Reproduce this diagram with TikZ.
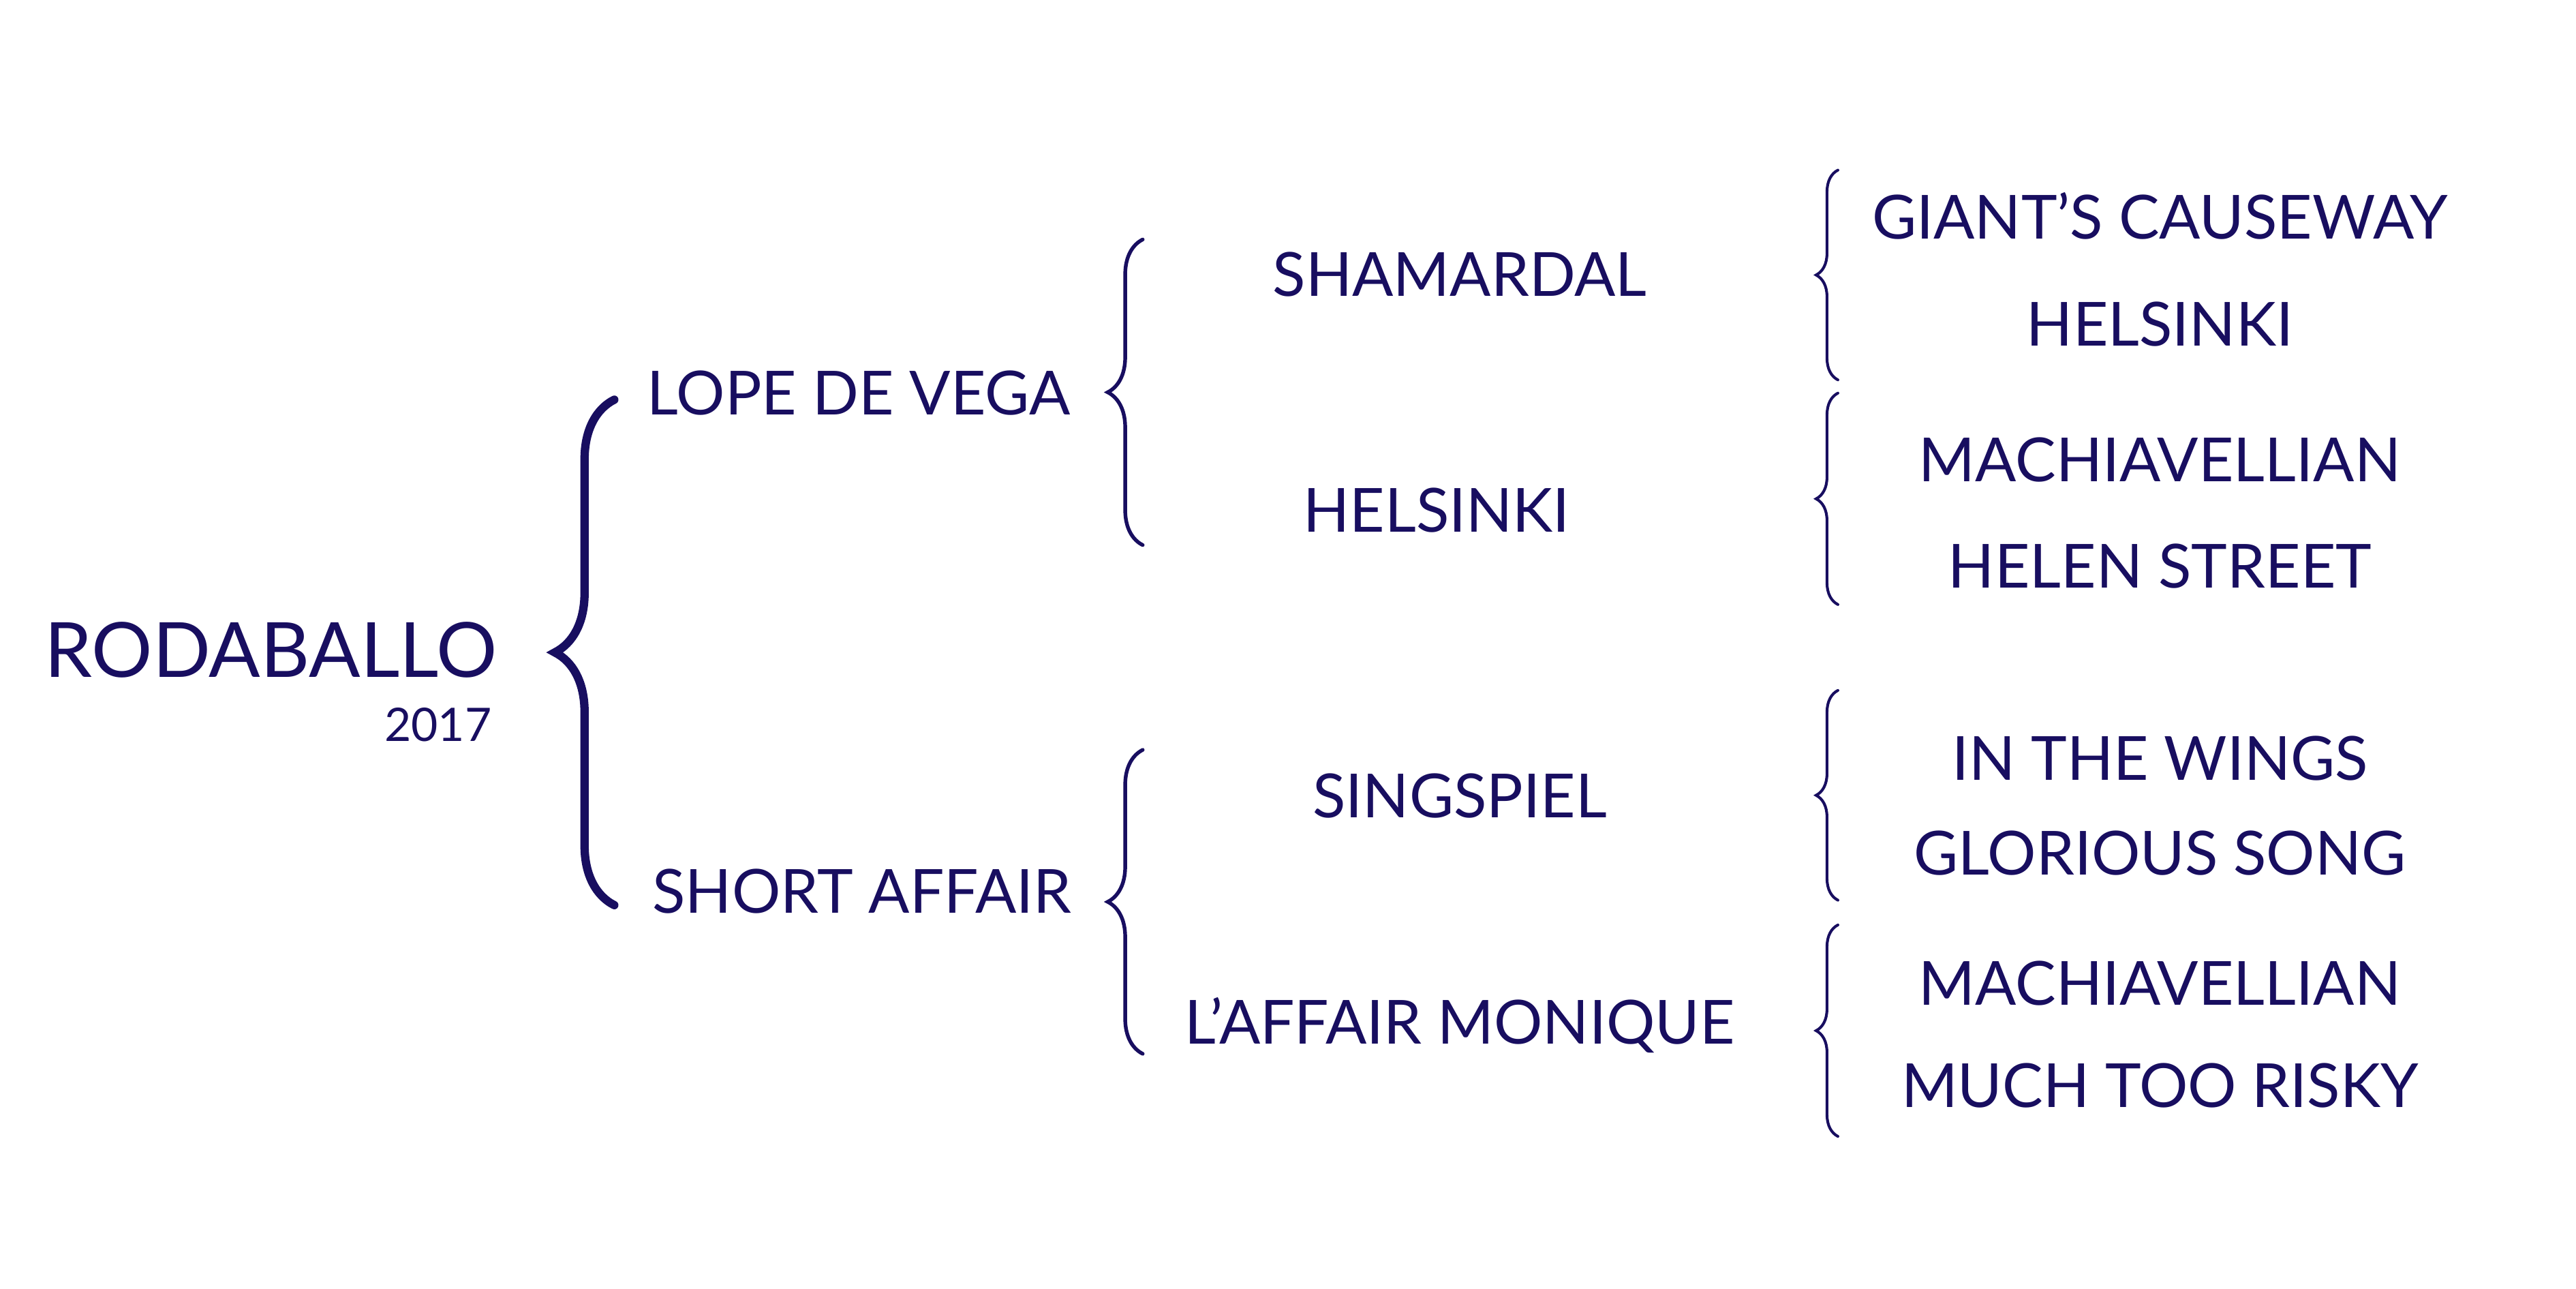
\documentclass[tikz,border=0pt]{standalone}
\usepackage{fontspec}
\setmainfont{Lato}
\usepackage{tikz}
\usetikzlibrary{decorations.pathreplacing}
\definecolor{navy}{RGB}{24,14,96}
\tikzset{
  horse/.style={text=navy, font=\fontsize{26.2}{30}\selectfont, anchor=base, inner sep=0pt},
  rootname/.style={text=navy, font=\fontsize{32.8}{36}\selectfont, anchor=base, inner sep=0pt},
  year/.style={text=navy, font=\fontsize{19.9}{22}\selectfont, anchor=base east, inner sep=0pt},
  bigbrace/.style={navy, line width=3.6pt, line cap=round, decorate, decoration={brace, amplitude=0.9cm}},
  midbrace/.style={navy, line width=1.6pt, line cap=round, decorate, decoration={brace, amplitude=0.53cm}},
  smallbrace/.style={navy, line width=1.2pt, line cap=round, decorate, decoration={brace, amplitude=0.33cm}}
}
\begin{document}
\begin{tikzpicture}
\useasboundingbox (0,0) rectangle (39,19.5);
\node [rootname] (r) at (4.1,9.25) {RODABALLO};
\node [year] (y) at (7.45,8.275) {2017};
\node [horse] (l) at (13.0,13.22) {LOPE DE VEGA};
\node [horse] (s) at (13.05,5.68) {SHORT AFFAIR};
\node [horse] (ls) at (22.1,15.02) {SHAMARDAL};
\node [horse] (lh) at (21.75,11.45) {HELSINKI};
\node [horse] (ss) at (22.1,7.12) {SINGSPIEL};
\node [horse] (sl) at (22.1,3.7) {L’AFFAIR MONIQUE};
\node [horse] (lsg) at (32.7,15.88) {GIANT’S CAUSEWAY};
\node [horse] (lsh) at (32.7,14.26) {HELSINKI};
\node [horse] (lhm) at (32.7,12.21) {MACHIAVELLIAN};
\node [horse] (lhh) at (32.7,10.6) {HELEN STREET};
\node [horse] (ssi) at (32.7,7.69) {IN THE WINGS};
\node [horse] (ssg) at (32.7,6.26) {GLORIOUS SONG};
\node [horse] (slm) at (32.7,4.29) {MACHIAVELLIAN};
\node [horse] (slr) at (32.7,2.74) {MUCH TOO RISKY};
\coordinate (rt) at (9.3,13.45);
\coordinate (rb) at (9.3,5.8);
\coordinate (lt) at (17.3,15.875);
\coordinate (lb) at (17.3,11.25);
\coordinate (st) at (17.3,8.15);
\coordinate (sb) at (17.3,3.55);
\coordinate (lst) at (27.825,16.925);
\coordinate (lsb) at (27.825,13.75);
\coordinate (lht) at (27.825,13.55);
\coordinate (lhb) at (27.825,10.35);
\coordinate (sst) at (27.825,9.05);
\coordinate (ssb) at (27.825,5.875);
\coordinate (slt) at (27.825,5.5);
\coordinate (slb) at (27.825,2.3);
\draw [bigbrace] (rb) -- (rt);
\draw [midbrace] (lb) -- (lt);
\draw [midbrace] (sb) -- (st);
\draw [smallbrace] (lsb) -- (lst);
\draw [smallbrace] (lhb) -- (lht);
\draw [smallbrace] (ssb) -- (sst);
\draw [smallbrace] (slb) -- (slt);
\end{tikzpicture}
\end{document}
